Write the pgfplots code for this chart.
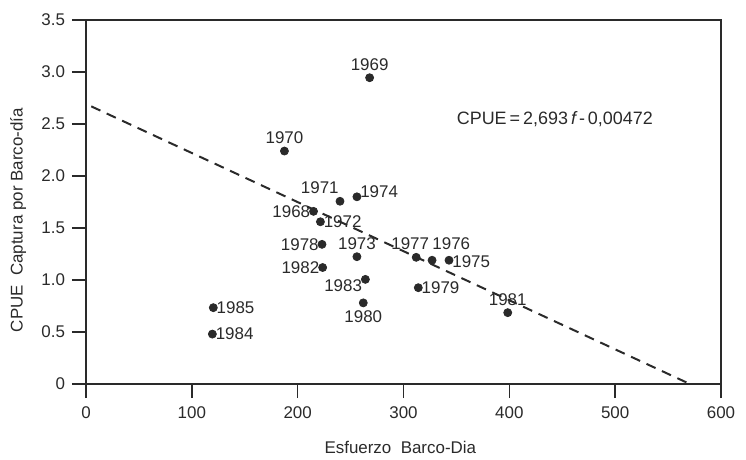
\documentclass[border=0pt]{standalone}
\usepackage{pgfplots}
\pgfplotsset{compat=1.18}
\usepackage{fontspec}
\setmainfont{Liberation Sans}
\definecolor{ink}{HTML}{2A2A2A}

\pgfplotstableread{
x y
215 1.66
268 2.945
187.5 2.24
240 1.757
221.5 1.56
256 1.224
256 1.80
343 1.19
327 1.19
312 1.218
223 1.343
314 0.926
262 0.78
398.5 0.686
223.6 1.12
264 1.006
119.4 0.48
120.3 0.734
}\cpue

\begin{document}
\begin{tikzpicture}
\begin{axis}[
    at={(0,0)}, anchor=south west,
    scale only axis,
    width=317.5bp, height=182bp,
    xmin=0, xmax=600,
    ymin=0, ymax=3.5,
    xtick={0,100,...,600},
    xticklabels={0,100,200,300,400,500,600},
    ytick={0,0.5,...,3.5},
    yticklabels={0,0.5,1.0,1.5,2.0,2.5,3.0,3.5},
    xtick pos=left, ytick pos=left,
    tick align=outside,
    major tick length=7bp,
    axis line style={ink, line width=0.8pt},
    every tick/.style={ink, line width=0.8pt},
    tick label style={font=\fontsize{8.5}{10}\selectfont, text=ink},
    xticklabel style={yshift=-1bp},
    xlabel={Esfuerzo\ \ Barco-Dia},
    ylabel={CPUE\ \ Captura por Barco-día},
    label style={font=\fontsize{8.5}{10}\selectfont, text=ink},
    xlabel style={at={(axis description cs:0.495,0)}, anchor=center, yshift=-31.5bp},
    ylabel style={at={(axis description cs:-0.107,0.45)}, anchor=center, rotate=0},
    clip=false,
]
\addplot[ink, line width=1pt, dash pattern=on 5bp off 3.5bp]
    coordinates {(5,2.6694) (570.6,0)};
\addplot[only marks, mark=*, mark size=2bp, ink] table[x=x, y=y] {\cpue};

\begin{scope}[every node/.style={font=\fontsize{8.5}{10}\selectfont, text=ink, inner sep=1.5bp}]
\node[anchor=east] at (axis cs:215,1.66) {1968};
\node[anchor=south, yshift=2bp] at (axis cs:268,2.945) {1969};
\node[anchor=south, yshift=2bp] at (axis cs:187.5,2.24) {1970};
\node[anchor=south east, xshift=1bp, yshift=2bp] at (axis cs:240,1.757) {1971};
\node[anchor=west] at (axis cs:221.5,1.56) {1972};
\node[anchor=south, yshift=2bp] at (axis cs:256,1.224) {1973};
\node[anchor=west, yshift=2.5bp] at (axis cs:256,1.80) {1974};
\node[anchor=west, yshift=-0.5bp] at (axis cs:343,1.19) {1975};
\node[anchor=south west, xshift=-1.5bp, yshift=3.5bp] at (axis cs:327,1.19) {1976};
\node[anchor=south, xshift=-3bp, yshift=2bp] at (axis cs:312,1.218) {1977};
\node[anchor=east] at (axis cs:223,1.343) {1978};
\node[anchor=west] at (axis cs:314,0.926) {1979};
\node[anchor=north, yshift=-2bp] at (axis cs:262,0.78) {1980};
\node[anchor=south, yshift=2bp] at (axis cs:398.5,0.686) {1981};
\node[anchor=east] at (axis cs:223.6,1.12) {1982};
\node[anchor=east, yshift=-3bp] at (axis cs:264,1.006) {1983};
\node[anchor=west] at (axis cs:119.4,0.48) {1984};
\node[anchor=west] at (axis cs:120.3,0.734) {1985};
\node[anchor=center, font=\fontsize{9}{11}\selectfont] at (axis cs:443,2.55) {CPUE\,=\,2,693\,{\itshape f}\,-\,0,00472};
\end{scope}
\end{axis}
\pgfresetboundingbox
\path[use as bounding box] (-43bp,-38bp) rectangle (330bp,192bp);
\end{tikzpicture}
\end{document}
